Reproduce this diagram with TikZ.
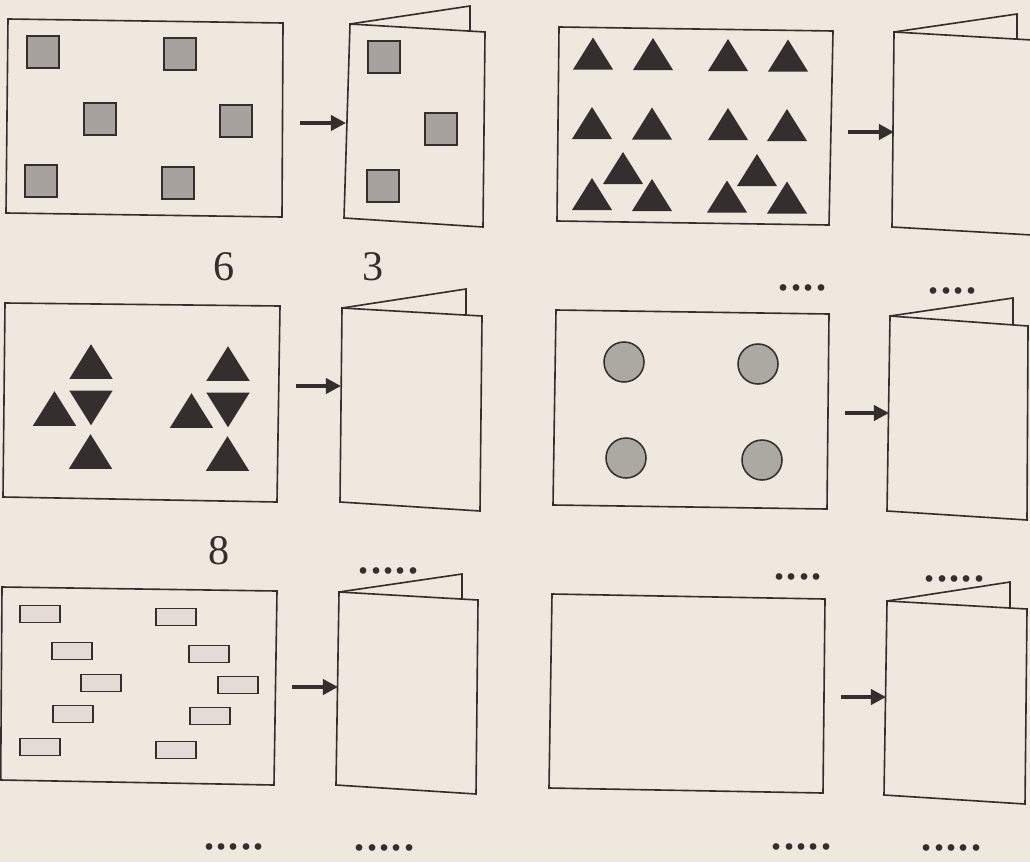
\documentclass[tikz,border=0pt]{standalone}
\usepackage{fontspec}
\setmainfont{Liberation Serif}
\usepackage{tikz}
\usetikzlibrary{arrows.meta,positioning,calc}
\definecolor{paper}{RGB}{238,232,222}
\definecolor{ink}{RGB}{52,46,46}
\definecolor{tilegray}{RGB}{168,162,158}
\definecolor{discgray}{RGB}{172,168,162}
\definecolor{chippink}{RGB}{228,218,214}
\newcommand{\gapdots}[1]{\foreach \k in {2,...,#1}{.\kern-1.2pt}.}
\tikzset{
  sheet/.style={draw=ink, line width=1.15pt, line join=miter},
  tile/.style={rectangle, draw=ink, fill=tilegray, line width=1.2pt, inner sep=0pt, minimum size=0.8cm},
  disc/.style={circle, draw=ink, fill=discgray, line width=1.1pt, inner sep=0pt, minimum size=1cm},
  chip/.style={rectangle, draw=ink, fill=chippink, line width=1.1pt, inner sep=0pt, minimum width=1cm, minimum height=0.42cm},
  pointer/.style={draw=ink, line width=2.6pt, -{Triangle[length=3.8mm,width=3.8mm]}},
  numlabel/.style={anchor=base, inner sep=0pt, text=ink, font=\fontsize{30}{34}\selectfont},
  blank/.style={anchor=base, inner sep=0pt, text=ink, font=\fontsize{40}{44}\selectfont},
  tri/.pic={\fill[ink] (0,-16) -- (20,16) -- (-20,16) -- cycle;}
}

\begin{document}
\begin{tikzpicture}[x=0.025cm, y=-0.025cm]
  \fill[paper] (0,0) rectangle (1030,862);
  \useasboundingbox (0,0) rectangle (1030,862);

  % Row 1, left: squares
  \draw[sheet] (8,19) -- (283,23) -- (282,217) -- (6,213) -- cycle;
  \node[tile] (s1) at (43,52) {};
  \node[tile] (s2) at (180,54) {};
  \node[tile] (s3) at (100,119) {};
  \node[tile] (s4) at (236,121) {};
  \node[tile] (s5) at (41,181) {};
  \node[tile] (s6) at (178,183) {};
  \coordinate (a1) at (300,123);
  \coordinate (h1) at (346,123);
  \draw[pointer] (a1) -- (h1);
  \draw[sheet] (350,24) coordinate (b1s) -- (485,32) -- (483,227) -- (344,218) -- cycle;
  \draw[sheet] (b1s) -- (470,6) -- (470,31);
  \node[tile] (f1) at (384,57) {};
  \node[tile] (f2) at (441,129) {};
  \node[tile] (f3) at (383,186) {};

  % Row 1, right: triangles
  \draw[sheet] (559,27) -- (833,31) -- (829,225) -- (557,221) -- cycle;
  \pic at (593,53.5) {tri};
  \pic at (653,54) {tri};
  \pic at (728,55) {tri};
  \pic at (788,55.5) {tri};
  \pic at (592,123) {tri};
  \pic at (652,123.5) {tri};
  \pic at (728,124) {tri};
  \pic at (787,125) {tri};
  \pic at (623,168) {tri};
  \pic at (757,170) {tri};
  \pic at (592,194) {tri};
  \pic at (652,195) {tri};
  \pic at (727,196.5) {tri};
  \pic at (787,197.5) {tri};
  \coordinate (a2) at (848,132);
  \coordinate (h2) at (894,132);
  \draw[pointer] (a2) -- (h2);
  \draw[sheet] (894,32) coordinate (b2s) -- (1032,40) -- (1032,235) -- (892,227) -- cycle;
  \draw[sheet] (b2s) -- (1017,14) -- (1017,39);
  \node[blank] (d1) at (802.5,290) {\gapdots{4}};
  \node[blank] (d2) at (952.5,293) {\gapdots{4}};

  % Row 2, left: triangle groups
  \node[numlabel] (n6) at (224,280) {6};
  \node[numlabel] (n3) at (373,280) {3};
  \draw[sheet] (5,303) -- (280,306) -- (277,502) -- (3,497) -- cycle;
  \foreach \dx/\dy in {0/0, 137/2} {
    \begin{scope}[shift={(\dx,\dy)}]
      \pic[scale=1.08] at (91,361.5) {tri};
      \pic[scale=1.08, rotate=180] at (91,408) {tri};
      \pic[scale=1.08] at (54.5,408.5) {tri};
      \pic[scale=1.08] at (90.5,451.5) {tri};
    \end{scope}
  }
  \coordinate (a3) at (296,386);
  \coordinate (h3) at (341,386);
  \draw[pointer] (a3) -- (h3);
  \draw[sheet] (342,308) coordinate (b3s) -- (482,316) -- (480,511) -- (340,502) -- cycle;
  \draw[sheet] (b3s) -- (466,289) -- (466,315);

  % Row 2, right: circles
  \draw[sheet] (556,310) -- (829,314) -- (827,509) -- (553,505) -- cycle;
  \node[disc] (c1) at (624,362) {};
  \node[disc] (c2) at (758,364) {};
  \node[disc] (c3) at (626,458) {};
  \node[disc] (c4) at (762,460) {};
  \coordinate (a4) at (845,413);
  \coordinate (h4) at (889,413);
  \draw[pointer] (a4) -- (h4);
  \draw[sheet] (890,316) coordinate (b4s) -- (1028,326) -- (1027,520) -- (887,511) -- cycle;
  \draw[sheet] (b4s) -- (1013,298) -- (1013,325);
  \node[blank] (d3) at (798,579) {\gapdots{4}};
  \node[blank] (d4) at (954.5,581) {\gapdots{5}};

  % Row 3, left: small bars
  \node[numlabel] (n8) at (219,564) {8};
  \node[blank] (d5) at (388.5,573) {\gapdots{5}};
  \draw[sheet] (2,587) -- (277,591) -- (274,785) -- (0.7,780) -- cycle;
  \node[chip] (r1) at (40,614) {};
  \node[chip] (r2) at (176,617) {};
  \node[chip] (r3) at (72,651) {};
  \node[chip] (r4) at (209,654) {};
  \node[chip] (r5) at (101,683) {};
  \node[chip] (r6) at (238,685) {};
  \node[chip] (r7) at (73,714) {};
  \node[chip] (r8) at (210,716) {};
  \node[chip] (r9) at (40,747) {};
  \node[chip] (r10) at (176,750) {};
  \coordinate (a5) at (292,687);
  \coordinate (h5) at (338,687);
  \draw[pointer] (a5) -- (h5);
  \draw[sheet] (339,592) coordinate (b5s) -- (478,600) -- (476,794) -- (336,785) -- cycle;
  \draw[sheet] (b5s) -- (462,574) -- (462,599);
  \node[blank] (d6) at (234,849) {\gapdots{5}};
  \node[blank] (d7) at (384.5,850) {\gapdots{5}};

  % Row 3, right: empty sheet
  \draw[sheet] (552,594) -- (825,599) -- (823,793) -- (549,788) -- cycle;
  \coordinate (a6) at (841,697);
  \coordinate (h6) at (886,697);
  \draw[pointer] (a6) -- (h6);
  \draw[sheet] (887,601) coordinate (b6s) -- (1027,609) -- (1025,804) -- (884,795) -- cycle;
  \draw[sheet] (b6s) -- (1010,582) -- (1010,608);
  \node[blank] (d8) at (801.5,849) {\gapdots{5}};
  \node[blank] (d9) at (951.5,850) {\gapdots{5}};
\end{tikzpicture}
\end{document}
